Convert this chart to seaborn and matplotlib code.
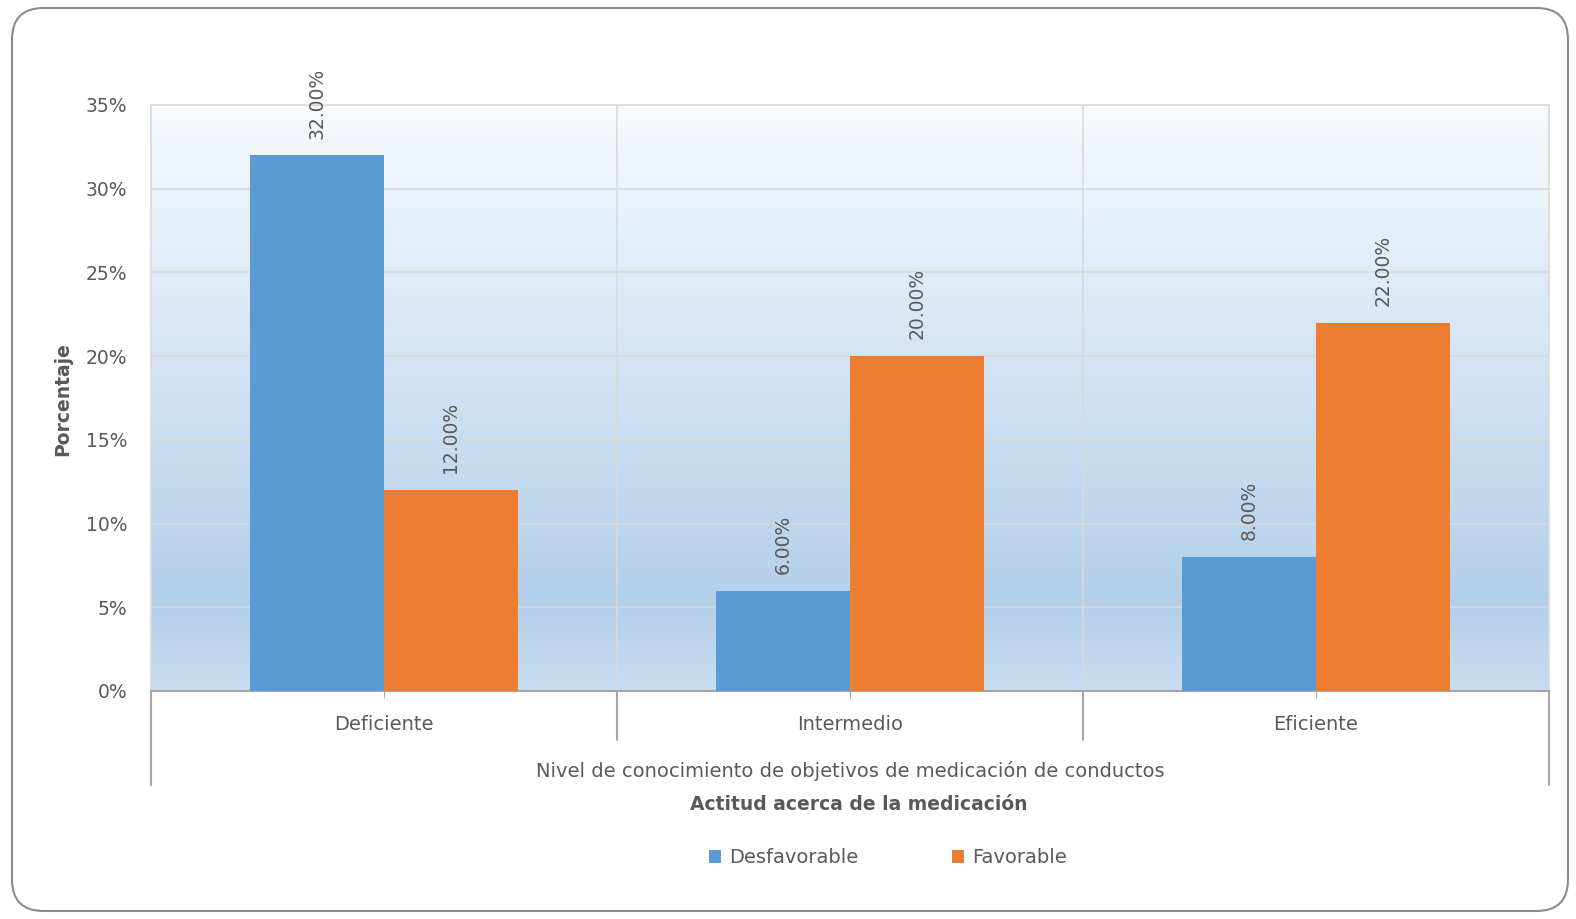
import matplotlib.pyplot as plt
import matplotlib.colors as mcolors
import numpy as np
import pandas as pd
import seaborn as sns
from matplotlib.patches import FancyBboxPatch
from matplotlib.transforms import blended_transform_factory

# Data
categories = ["Deficiente", "Intermedio", "Eficiente"]
series = ["Desfavorable", "Favorable"]
desfavorable = [32.0, 6.0, 8.0]
favorable = [12.0, 20.0, 22.0]
yticks = [0, 5, 10, 15, 20, 25, 30, 35]

df = pd.DataFrame({
    "nivel": categories * 2,
    "actitud": [series[0]] * 3 + [series[1]] * 3,
    "valor": desfavorable + favorable,
})

sns.set_style("white")
plt.rcParams["font.family"] = ["DejaVu Sans"]
text_color = "#595959"
fs = 13.5

fig = plt.figure(figsize=(15.76, 9.19), dpi=100)
ax = fig.add_axes([151 / 1576, 1 - 691 / 919, 1398 / 1576, 586 / 919])

# Rounded chart border
border = FancyBboxPatch((12 / 1576, 8 / 919), 1556 / 1576, 903 / 919,
                        boxstyle="round,pad=0,rounding_size=0.02",
                        transform=fig.transFigure, facecolor="none",
                        edgecolor="#8c8c8c", linewidth=1.5, zorder=0,
                        mutation_aspect=1576 / 919)
fig.patches.append(border)

# Gradient background of the plot area (light at top, darker towards bottom)
cmap = mcolors.LinearSegmentedColormap.from_list(
    "bg", [(0.0, "#f7fafd"), (0.85, "#b3cfea"), (1.0, "#c9ddf1")])
grad = np.linspace(0, 1, 256).reshape(-1, 1)
ax.imshow(grad, cmap=cmap, aspect="auto", extent=[-0.5, 2.5, 0, 35],
          origin="upper", zorder=0, interpolation="bicubic")

sns.barplot(data=df, x="nivel", y="valor", hue="actitud", order=categories,
            hue_order=series, palette=["#5B9BD5", "#ED7D31"], width=0.573,
            gap=0, saturation=1, linewidth=0, ax=ax, zorder=3)

ax.set_xlim(-0.5, 2.5)
ax.set_ylim(0, 35)
ax.set_yticks(yticks)
ax.set_yticklabels([f"{t}%" for t in yticks])
ax.grid(axis="y", color="#d9d9d9", linewidth=1.2, zorder=1)
ax.set_axisbelow(True)
for x in [0.5, 1.5]:
    ax.axvline(x, color="#d9d9d9", linewidth=1.2, zorder=1)

for side in ["top", "left", "right"]:
    ax.spines[side].set_color("#d9d9d9")
    ax.spines[side].set_linewidth(1.2)
ax.spines["bottom"].set_color("#a6a6a6")
ax.spines["bottom"].set_linewidth(1.5)

# Category separator lines below the axis
trans = blended_transform_factory(ax.transData, ax.transAxes)
for x in [0.5, 1.5]:
    ax.plot([x, x], [0, -49 / 586], transform=trans, color="#a6a6a6",
            linewidth=1.5, clip_on=False)
for x in [-0.5, 2.5]:
    ax.plot([x, x], [0, -94 / 586], transform=trans, color="#a6a6a6",
            linewidth=1.5, clip_on=False)

ax.tick_params(axis="x", length=5, color="#a6a6a6", pad=12, bottom=True,
               labelsize=14, labelcolor=text_color)
ax.tick_params(axis="y", length=0, pad=17, labelsize=fs,
               labelcolor=text_color)

# Data labels
for container in ax.containers:
    ax.bar_label(container, labels=[f"{v:.2f}%" for v in container.datavalues],
                 rotation=90, padding=12, fontsize=fs, color=text_color)

ax.set_xlabel("Nivel de conocimiento de objetivos de medicación de conductos",
              fontsize=14, color=text_color)
ax.xaxis.set_label_coords(0.5, -0.119)
ax.set_ylabel("Porcentaje", fontsize=fs, fontweight="bold", color=text_color)
ax.yaxis.set_label_coords(-0.0565, 0.498)
fig.text(859 / 1576, 1 - 804 / 919, "Actitud acerca de la medicación",
         ha="center", va="center", fontsize=fs, fontweight="bold",
         color=text_color)

ax.legend(loc="center", bbox_to_anchor=(0.527, -0.284), ncol=2, frameon=False,
          fontsize=14, handlelength=0.65, handleheight=0.65,
          columnspacing=4.8, handletextpad=0.4, labelcolor=text_color)

fig.savefig("out.png", dpi=100)
